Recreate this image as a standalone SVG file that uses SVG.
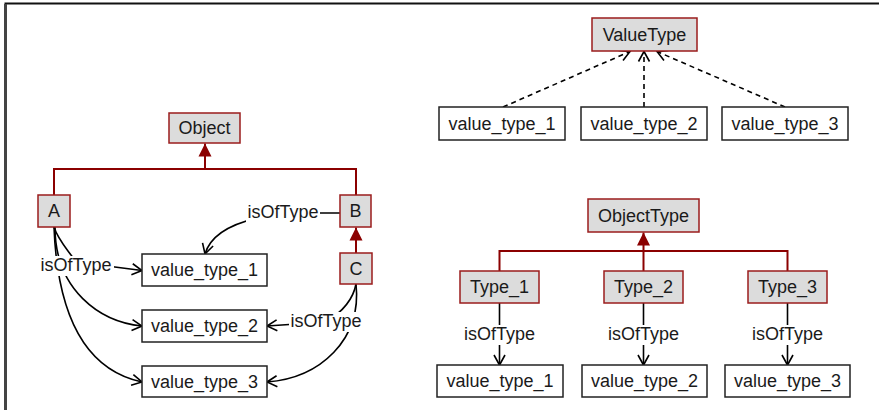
<svg xmlns="http://www.w3.org/2000/svg" width="879" height="410" viewBox="0 0 879 410">
<defs>
<marker id="open" markerUnits="userSpaceOnUse" markerWidth="14" markerHeight="14" refX="11" refY="6" orient="auto" overflow="visible">
<path d="M1,0.5 L11,6 L1,11.5" fill="none" stroke="#000" stroke-width="1.6"/>
</marker>
<marker id="tri" markerUnits="userSpaceOnUse" markerWidth="14" markerHeight="14" refX="13" refY="6.5" orient="auto" overflow="visible">
<path d="M0,0 L13,6.5 L0,13 Z" fill="#8b0000"/>
</marker>
<style>
.cls rect{fill:#dcdcdc;stroke:#9b1c1c;stroke-width:1.5}
.val rect{fill:#fff;stroke:#222;stroke-width:1.5}
text{font-family:"Liberation Sans",Arial,sans-serif;font-size:18px;fill:#1a1a1a;text-anchor:middle;dominant-baseline:central}
.gen{fill:none;stroke:#8b0000;stroke-width:2}
.rel{fill:none;stroke:#000;stroke-width:1.6}
.dash{fill:none;stroke:#000;stroke-width:1.6;stroke-dasharray:5 4}
.lblbg{fill:#fff}
</style>
</defs>
<rect x="0" y="0" width="879" height="410" fill="#fff"/>
<path d="M5.5,410 V3.5 H879" fill="none" stroke="#111" stroke-width="2"/>
<line x1="5.5" y1="4" x2="5.5" y2="410" stroke="#444" stroke-width="3"/>

<g id="connectors">
<path class="gen" d="M54,195 V169 H356 V195"/>
<path class="gen" d="M205,169 V143.5" marker-end="url(#tri)"/>
<path class="gen" d="M356,253 V227.5" marker-end="url(#tri)"/>
<path class="rel" d="M54,227 C58,240 68,250 76,262 L142,270.5" marker-end="url(#open)"/>
<path class="rel" d="M55,227 C55,290 100,322 142,326" marker-end="url(#open)"/>
<path class="rel" d="M54,227 C58,330 95,372 142,382" marker-end="url(#open)"/>
<path class="rel" d="M340,213 L290,213 Q215,220 205,254" marker-end="url(#open)"/>
<path class="rel" d="M356,284 Q352,306 326,322 L267,326" marker-end="url(#open)"/>
<path class="rel" d="M356,284 C362,340 320,378 267,382" marker-end="url(#open)"/>
<rect class="lblbg" x="40" y="256" width="74" height="20"/>
<text x="76" y="265">isOfType</text>
<rect class="lblbg" x="246" y="203" width="74" height="20"/>
<text x="283" y="212">isOfType</text>
<rect class="lblbg" x="289" y="312" width="74" height="20"/>
<text x="326" y="321">isOfType</text>
<path class="dash" d="M503,107 L630,51.5" marker-end="url(#open)"/>
<path class="dash" d="M644,107 L644,51.5" marker-end="url(#open)"/>
<path class="dash" d="M785,107 L657,51.5" marker-end="url(#open)"/>
<path class="gen" d="M499.5,271 V251 H787.5 V271"/>
<path class="gen" d="M643.5,271 V232.5" marker-end="url(#tri)"/>
<path class="rel" d="M499.5,303 V365" marker-end="url(#open)"/>
<path class="rel" d="M643.5,303 V365" marker-end="url(#open)"/>
<path class="rel" d="M787.5,303 V365" marker-end="url(#open)"/>
<rect class="lblbg" x="462" y="325" width="75" height="20"/>
<text x="499.5" y="334">isOfType</text>
<rect class="lblbg" x="606" y="325" width="75" height="20"/>
<text x="643.5" y="334">isOfType</text>
<rect class="lblbg" x="750" y="325" width="75" height="20"/>
<text x="787.5" y="334">isOfType</text>
</g>

<g id="Object" class="cls"><rect x="169" y="113" width="71" height="30"/><text x="204.5" y="128">Object</text></g>
<g id="A" class="cls"><rect x="38" y="195" width="32" height="32"/><text x="54" y="211">A</text></g>
<g id="B" class="cls"><rect x="340" y="195" width="31" height="32"/><text x="355.5" y="211">B</text></g>
<g id="C" class="cls"><rect x="340" y="253" width="32" height="31"/><text x="356" y="268.5">C</text></g>
<g id="L_vt1" class="val"><rect x="142" y="254" width="125" height="32"/><text x="204.5" y="270">value_type_1</text></g>
<g id="L_vt2" class="val"><rect x="142" y="310" width="125" height="32"/><text x="204.5" y="326">value_type_2</text></g>
<g id="L_vt3" class="val"><rect x="142" y="366" width="125" height="31"/><text x="204.5" y="381.5">value_type_3</text></g>

<g id="ValueType" class="cls"><rect x="592" y="18" width="105" height="33"/><text x="644.5" y="34.5">ValueType</text></g>
<g id="R_vt1" class="val"><rect x="439" y="107" width="126" height="33"/><text x="502" y="123.5">value_type_1</text></g>
<g id="R_vt2" class="val"><rect x="581" y="107" width="126" height="33"/><text x="644" y="123.5">value_type_2</text></g>
<g id="R_vt3" class="val"><rect x="722" y="107" width="126" height="33"/><text x="785" y="123.5">value_type_3</text></g>

<g id="ObjectType" class="cls"><rect x="588" y="199" width="111" height="33"/><text x="643.5" y="215.5">ObjectType</text></g>
<g id="Type_1" class="cls"><rect x="460" y="271" width="79" height="32"/><text x="499.5" y="287">Type_1</text></g>
<g id="Type_2" class="cls"><rect x="604" y="271" width="79" height="32"/><text x="643.5" y="287">Type_2</text></g>
<g id="Type_3" class="cls"><rect x="748" y="271" width="79" height="32"/><text x="787.5" y="287">Type_3</text></g>
<g id="B_vt1" class="val"><rect x="437" y="365" width="126" height="32"/><text x="500" y="381">value_type_1</text></g>
<g id="B_vt2" class="val"><rect x="582" y="365" width="125" height="32"/><text x="644.5" y="381">value_type_2</text></g>
<g id="B_vt3" class="val"><rect x="725" y="365" width="125" height="32"/><text x="787.5" y="381">value_type_3</text></g>
</svg>
